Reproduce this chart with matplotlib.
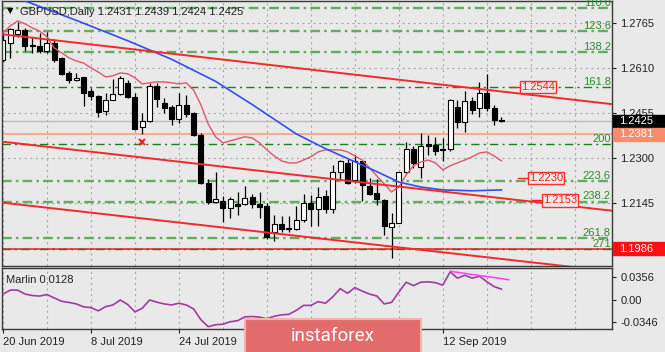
import matplotlib
matplotlib.use('Agg')
import matplotlib.pyplot as plt
from matplotlib.patches import Rectangle
from matplotlib.transforms import blended_transform_factory

plt.rcParams['font.family'] = ['Liberation Sans', 'DejaVu Sans']
plt.rcParams['lines.scale_dashes'] = False

# GBPUSD daily bars, 20 Jun 2019 .. 24 Sep 2019
opens = [1.2637, 1.2696, 1.2725, 1.2740, 1.2688, 1.2685, 1.2669, 1.2694, 1.2643, 1.2591,
         1.2567, 1.2577, 1.2528, 1.2513, 1.2461, 1.2499, 1.2520, 1.2556, 1.2510, 1.2404,
         1.2428, 1.2547, 1.2490, 1.2474, 1.2433, 1.2482, 1.2453, 1.2378, 1.2214, 1.2147,
         1.2152, 1.2126, 1.2140, 1.2141, 1.2164, 1.2141, 1.2132, 1.2043, 1.2072, 1.2058,
         1.2054, 1.2086, 1.2143, 1.2123, 1.2169, 1.2123, 1.2249, 1.2281, 1.2223, 1.2287,
         1.2203, 1.2178, 1.2155, 1.2061, 1.2076, 1.2249, 1.2329, 1.2267, 1.2347, 1.2344,
         1.2330, 1.2329, 1.2476, 1.2422, 1.2496, 1.2470, 1.2522, 1.2470, 1.2431]
highs = [1.2733, 1.2747, 1.2768, 1.2746, 1.2711, 1.2729, 1.2734, 1.2708, 1.2648, 1.2599,
         1.2591, 1.2577, 1.2539, 1.2516, 1.2522, 1.2571, 1.2582, 1.2568, 1.2522, 1.2453,
         1.2556, 1.2556, 1.2505, 1.2482, 1.2522, 1.2516, 1.2458, 1.2384, 1.2226, 1.2249,
         1.2168, 1.2166, 1.2183, 1.2203, 1.2176, 1.2183, 1.2145, 1.2103, 1.2100, 1.2100,
         1.2134, 1.2176, 1.2172, 1.2198, 1.2189, 1.2276, 1.2293, 1.2295, 1.2309, 1.2293,
         1.2229, 1.2227, 1.2157, 1.2109, 1.2252, 1.2355, 1.2341, 1.2385, 1.2378, 1.2372,
         1.2367, 1.2501, 1.2499, 1.2528, 1.2510, 1.2560, 1.2587, 1.2482, 1.2439]
lows = [1.2630, 1.2644, 1.2717, 1.2669, 1.2662, 1.2660, 1.2662, 1.2631, 1.2585, 1.2556,
        1.2564, 1.2478, 1.2499, 1.2440, 1.2447, 1.2497, 1.2516, 1.2506, 1.2396, 1.2382,
        1.2424, 1.2474, 1.2453, 1.2413, 1.2419, 1.2441, 1.2375, 1.2210, 1.2141, 1.2144,
        1.2080, 1.2092, 1.2103, 1.2138, 1.2127, 1.2092, 1.2020, 1.2012, 1.2043, 1.2045,
        1.2052, 1.2080, 1.2063, 1.2063, 1.2111, 1.2109, 1.2223, 1.2210, 1.2212, 1.2152,
        1.2172, 1.2138, 1.2032, 1.1954, 1.2075, 1.2247, 1.2264, 1.2229, 1.2309, 1.2309,
        1.2287, 1.2324, 1.2401, 1.2390, 1.2451, 1.2440, 1.2462, 1.2413, 1.2424]
closes = [1.2705, 1.2742, 1.2740, 1.2685, 1.2686, 1.2669, 1.2696, 1.2637, 1.2589, 1.2568,
          1.2576, 1.2522, 1.2514, 1.2459, 1.2499, 1.2520, 1.2574, 1.2510, 1.2398, 1.2428,
          1.2547, 1.2501, 1.2472, 1.2433, 1.2482, 1.2450, 1.2378, 1.2212, 1.2149, 1.2158,
          1.2126, 1.2157, 1.2135, 1.2161, 1.2141, 1.2130, 1.2027, 1.2072, 1.2054, 1.2056,
          1.2086, 1.2143, 1.2123, 1.2164, 1.2123, 1.2249, 1.2287, 1.2212, 1.2287, 1.2206,
          1.2175, 1.2157, 1.2063, 1.2076, 1.2249, 1.2329, 1.2281, 1.2341, 1.2341, 1.2323,
          1.2327, 1.2499, 1.2424, 1.2496, 1.2465, 1.2522, 1.2470, 1.2430, 1.2425]

# fast moving average (pink), one value per bar
ma_fast = [1.2730, 1.2754, 1.2771, 1.2761, 1.2747, 1.2736, 1.2716, 1.2678, 1.2661, 1.2644,
           1.2633, 1.2626, 1.2609, 1.2595, 1.2578, 1.2582, 1.2592, 1.2589, 1.2575, 1.2554,
           1.2558, 1.2561, 1.2561, 1.2558, 1.2554, 1.2558, 1.2533, 1.2482, 1.2416, 1.2372,
           1.2351, 1.2358, 1.2365, 1.2372, 1.2368, 1.2351, 1.2327, 1.2306, 1.2289, 1.2282,
           1.2282, 1.2292, 1.2303, 1.2320, 1.2327, 1.2327, 1.2327, 1.2320, 1.2306, 1.2292,
           1.2265, 1.2237, 1.2210, 1.2182, 1.2199, 1.2241, 1.2272, 1.2285, 1.2292, 1.2282,
           1.2258, 1.2272, 1.2282, 1.2292, 1.2303, 1.2316, 1.2320, 1.2306, 1.2289]
# slow moving average (blue), read at a few bars
ma_slow_idx = [0, 3, 10, 17, 23, 29, 34, 40, 44, 51, 54, 57, 60, 64, 68]
ma_slow = [1.2868, 1.2840, 1.2773, 1.2703, 1.2639, 1.2563, 1.2483, 1.2382, 1.2331,
           1.2252, 1.2216, 1.2199, 1.2189, 1.2186, 1.2189]

# Marlin oscillator
marlin = [0.0092, 0.0153, 0.0153, 0.0092, 0.0069, 0.0061, 0.0084, 0.0031, -0.0020, -0.0038,
          -0.0061, -0.0107, -0.0118, -0.0168, -0.0103, -0.0077, 0.0000, -0.0069, -0.0184, -0.0127,
          0.0000, -0.0035, -0.0061, -0.0077, -0.0050, -0.0077, -0.0138, -0.0306, -0.0413, -0.0383,
          -0.0375, -0.0337, -0.0321, -0.0260, -0.0256, -0.0265, -0.0291, -0.0252, -0.0230, -0.0222,
          -0.0161, -0.0084, -0.0084, -0.0026, -0.0050, 0.0050, 0.0176, 0.0103, 0.0191, 0.0138,
          0.0092, 0.0061, -0.0061, -0.0038, 0.0122, 0.0275, 0.0222, 0.0275, 0.0280, 0.0268,
          0.0230, 0.0436, 0.0337, 0.0383, 0.0337, 0.0367, 0.0283, 0.0207, 0.0168]
marlin_tl_idx = [61, 69]
marlin_tl = [0.0444, 0.0314]

# drawn objects
fib_names = ['110.0', '123.6', '138.2', '161.8', '200', '223.6', '238.2', '261.8', '271']
fib_prices = [1.2817, 1.2737, 1.2665, 1.2543, 1.2346, 1.2221, 1.2149, 1.2024, 1.1985]
trend_idx = [-0.4, 83.2]
trend_upper = [1.2726, 1.2484]
trend_middle = [1.2356, 1.2117]
trend_lower = [1.2146, 1.1908]
label_prices = [1.2544, 1.2230, 1.2153]
label_idx = [70.4, 71.5, 73.4]
fractal_idx, fractal_price = 19, 1.2354

bid_price = 1.2425
orange_price = 1.2381
red_price = 1.1986
price_ticks = [1.2765, 1.2610, 1.2455, 1.2300, 1.2145, 1.1990]
marlin_ticks = [0.0356, 0.0, -0.0346]
marlin_tick_labels = ['0.0356', '0.00', '-0.0346']
date_idx = [0, 12, 24, 36, 48, 60]
# the 9 Aug and 27 Aug labels sit under the watermark in the original
date_labels = ['20 Jun 2019', '8 Jul 2019', '24 Jul 2019', '', '', '12 Sep 2019']

BG = '#e9e9e9'
W, H = 665, 352
fig = plt.figure(figsize=(W / 100, H / 100), dpi=100, facecolor=BG)
ax = fig.add_axes([2 / W, 1 - 266 / H, 610 / W, 265 / H], facecolor=BG)
ax2 = fig.add_axes([2 / W, 1 - 329 / H, 610 / W, 61 / H], facecolor=BG)

xlim = (-0.136, 83.08)
for a in (ax, ax2):
    a.set_xlim(*xlim)
    for s in a.spines.values():
        s.set_color('#3a3a3a')
        s.set_linewidth(1)
    for gx in range(0, 84, 6):
        a.axvline(gx, color='#a8a8a8', lw=0.8, ls=(0, (1.5, 2.5)), zorder=0.5)

ax.set_ylim(1.19269, 1.28397)
for p in price_ticks:
    ax.axhline(p, color='#a8a8a8', lw=0.8, ls=(0, (1.5, 2.5)), zorder=0.5)

# fibonacci levels
dark_levels = {'161.8', '200', '271'}
ax.axhline(red_price, color='#ff2020', lw=1.1, zorder=0.8)
ax.axhline(orange_price, color='#f7a083', lw=1.2, zorder=0.8)
ax.axhline(bid_price, color='#bdbdbd', lw=1, zorder=0.8)
for name, p in zip(fib_names, fib_prices):
    if name in dark_levels:
        ax.axhline(p, color='#1f7f1f', lw=1.0, ls=(0, (6, 3, 1.5, 3)), zorder=0.9)
    else:
        ax.axhline(p, color='#62ad62', lw=1.7, ls=(0, (7, 3, 1.8, 3)), zorder=0.9)
    ax.annotate(name, (0.998, p), xycoords=blended_transform_factory(ax.transAxes, ax.transData),
                xytext=(0, 1.5), textcoords='offset points', ha='right', va='baseline',
                color='#2e8b2e', fontsize=8, zorder=4)

# candles
idx = list(range(len(opens)))
ax.vlines(idx, lows, highs, color='black', lw=0.9, zorder=2)
for i in idx:
    o, c = opens[i], closes[i]
    fc = 'white' if c > o else 'black'
    ax.bar(i, abs(c - o), bottom=min(o, c), width=0.68, color=fc,
           edgecolor='black', lw=0.8, zorder=2.2)

# moving averages and trend lines
ax.plot(idx, ma_fast, color='#e0566e', lw=1.0, zorder=3)
ax.plot(ma_slow_idx, ma_slow, color='#3050f0', lw=1.2, zorder=3)
for tl in (trend_upper, trend_middle, trend_lower):
    ax.plot(trend_idx, tl, color='#f42a2a', lw=1.4, zorder=3.1)
ax.plot(fractal_idx, fractal_price, marker='x', color='#ff2020', ms=4, mew=1.5, zorder=3)

for p, li in zip(label_prices, label_idx):
    ax.plot([li - 1.3, li], [p, p], color='#ff2020', lw=1, zorder=3.2)
    ax.text(li + 0.25, p, f'{p:.4f}', color='#ff2020', fontsize=8, ha='left', va='center',
            zorder=3.3, bbox=dict(boxstyle='square,pad=0.12', fc=BG, ec='#ff3030', lw=1))

# right axis of the price panel
ax.yaxis.tick_right()
ax.set_yticks(price_ticks)
ax.set_yticklabels([f'{p:.4f}' for p in price_ticks])
ax.set_xticks([])
ax.tick_params(axis='y', length=3, width=0.8, pad=3, labelsize=8, colors='#222222')

tr = blended_transform_factory(ax.transAxes, ax.transData)
tag_h = 13 / 2903
for p, col in ((bid_price, 'black'), (orange_price, '#f98c6c'), (red_price, '#ff1010')):
    ax.add_patch(Rectangle((1.0015, p - tag_h / 2), 0.088, tag_h, transform=tr,
                           fc=col, ec=col, clip_on=False, zorder=5))
    ax.text(1.012, p, f'{p:.4f}', transform=tr, color='white', fontsize=8,
            ha='left', va='center', zorder=6, clip_on=False)

# Marlin panel
ax2.set_ylim(-0.0449, 0.0495)
ax2.plot(idx, marlin, color='#a03ca0', lw=1.2, zorder=3)
ax2.plot(marlin_tl_idx, marlin_tl, color='#ff44ff', lw=1.2, zorder=3.1)
ax2.yaxis.tick_right()
ax2.set_yticks(marlin_ticks)
ax2.set_yticklabels(marlin_tick_labels)
ax2.set_xticks(date_idx)
ax2.set_xticklabels(date_labels, ha='left')
ax2.tick_params(axis='y', length=3, width=0.8, pad=3, labelsize=8, colors='#222222')
ax2.tick_params(axis='x', length=3, width=0.8, pad=2.5, labelsize=8, colors='#222222')
ax2.text(0.007, 0.8, 'Marlin 0.0128', transform=ax2.transAxes, fontsize=8,
         color='#222222', ha='left', va='center')

# header
fig.text(7 / W, 1 - 11 / H, '\u25bc', fontsize=6, color='black', va='center',
         family=['DejaVu Sans'])
fig.text(20 / W, 1 - 12 / H, 'GBPUSD,Daily 1.2431 1.2439 1.2424 1.2425', fontsize=8,
         color='#222222', va='center')

# watermark
fig.add_artist(Rectangle((245 / W, -0.05), 176 / W, 0.05 + 33 / H, transform=fig.transFigure,
                         fc='#e26b6b', ec='#f3b3b3', lw=1.5, zorder=10))
fig.text(333 / W, 1 - 336 / H, 'instaforex', fontsize=13.5, color='white', ha='center',
         va='center', family=['Roboto', 'DejaVu Sans'], zorder=11)

fig.savefig('out.png', dpi=100, facecolor=BG)
